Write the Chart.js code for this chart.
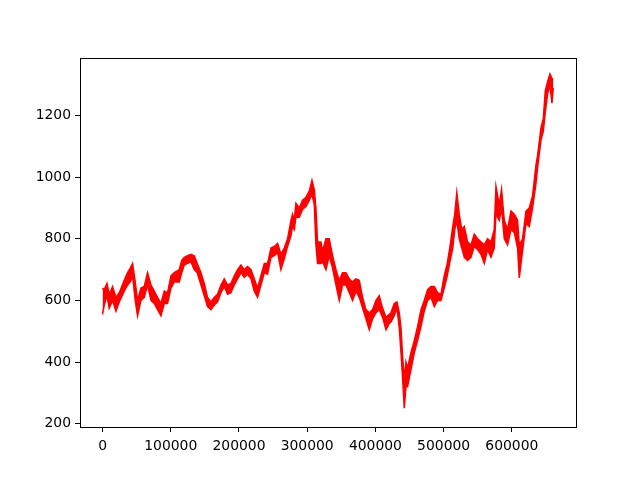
<!DOCTYPE html>
<html>
<head>
<meta charset="utf-8">
<script src="https://cdn.jsdelivr.net/npm/chart.js@4/dist/chart.umd.min.js"></script>
<style>
  html, body { margin: 0; padding: 0; background: #fff; }
  #wrap { width: 640px; height: 480px; }
</style>
</head>
<body>
<div id="wrap"><canvas id="chart" width="640" height="480"></canvas></div>
<script>
// sample positions (index on the x axis)
const sampleX = [
  0, 2500, 6500, 9800, 14700, 19600, 24500, 31800, 36700, 40600,
  44000, 47900, 51300, 56300, 61100, 66000, 71000, 75800, 80600, 85600,
  90500, 95300, 100300, 105100, 112400, 116100, 119800, 124600, 129600, 134400,
  138800, 144300, 149100, 153900, 158900, 163800, 168600, 173600, 178400, 183300,
  188200, 193100, 197900, 202900, 207700, 212600, 217600, 222400, 227200, 232200,
  237100, 241900, 246900, 251700, 256600, 261500, 266400, 271200, 276200, 278500,
  281000, 283500, 288400, 293200, 298200, 303000, 307000, 310400, 312800, 315200,
  320200, 322500, 327500, 332300, 337200, 342200, 347000, 351800, 356800, 361700,
  366500, 371500, 376300, 381200, 386100, 391000, 395800, 400800, 405600, 410500,
  415500, 420300, 422800, 427600, 431600, 435000, 437500, 439800, 442300, 444800,
  447100, 452100, 457000, 461800, 466800, 471600, 476500, 481400, 486300, 491100,
  496100, 500900, 505300, 509700, 513400, 516300, 519300, 522900, 526600, 530300,
  535100, 540100, 544900, 549800, 554700, 559600, 564400, 569400, 574200, 576700,
  581600, 584900, 588900, 593700, 598700, 603600, 608400, 610900, 615700, 620700,
  625500, 630400, 635400, 637700, 642700, 646100, 649000, 652400, 655900, 658800,
  660700
];

// upper edge of the noisy red band
const bandHigh = [
  640, 635, 655, 620, 645, 610, 625, 665, 690, 705,
  720, 660, 600, 640, 645, 690, 650, 630, 610, 590,
  630, 625, 680, 690, 700, 730, 740, 745, 750, 745,
  720, 690, 655, 610, 595, 610, 620, 650, 670, 650,
  655, 680, 700, 715, 700, 710, 700, 670, 640, 680,
  720, 720, 770, 775, 785, 750, 770, 800, 860, 880,
  860, 915, 900, 925, 935, 955, 990, 960, 900, 790,
  790, 760, 800, 800, 745, 700, 665, 690, 690, 670,
  660, 670, 665, 610, 570, 560, 570, 600, 615, 575,
  545, 555, 560, 590, 595, 560, 510, 420, 345, 400,
  380, 430, 470, 515, 570, 600, 635, 645, 645, 625,
  620, 680, 720, 780, 840, 880, 950, 880, 830, 840,
  790, 780, 815, 800, 790, 780, 800, 790, 830, 970,
  910, 960, 860, 830, 890, 880, 860, 780, 800, 890,
  900, 940, 1040, 1070, 1160, 1190, 1280, 1310, 1335, 1320,
  1320
];

// lower edge of the noisy red band
const bandLow = [
  555, 585, 615, 575, 600, 565, 595, 630, 650, 660,
  680, 600, 550, 600, 610, 650, 600, 590, 570, 550,
  590, 590, 640, 660, 660, 690, 715, 720, 725, 700,
  690, 650, 615, 580, 570, 585, 595, 625, 645, 620,
  625, 650, 670, 690, 675, 685, 670, 630, 610, 650,
  690, 685, 740, 745, 755, 700, 735, 775, 810, 840,
  830, 870, 870, 895, 905, 925, 945, 910, 780, 720,
  720, 725, 700, 745, 705, 650, 600, 650, 650, 625,
  600, 630, 610, 575, 540, 505, 540, 560, 570, 545,
  505, 525, 530, 550, 575, 510, 430, 350, 250, 320,
  320, 375, 430, 470, 515, 565, 600, 610, 580, 600,
  600, 640, 680, 730, 770, 830, 860, 800, 770, 740,
  730, 740, 775, 765, 750, 720, 765, 740, 770, 880,
  860, 900, 800, 780, 830, 820, 770, 673, 760, 850,
  840, 900, 980, 1030, 1120, 1150, 1210, 1270, 1300, 1240,
  1290
];

const xTicks = [0, 100000, 200000, 300000, 400000, 500000, 600000];
const yTicks = [200, 400, 600, 800, 1000, 1200];

const red = '#ff0000';
const tickFont = { family: 'DejaVu Sans', size: 13.9 };

const highPts = sampleX.map((x, i) => ({ x: x, y: bandHigh[i] }));
const lowPts = sampleX.map((x, i) => ({ x: x, y: bandLow[i] }));

// full black frame round the plot, like the four spines
const framePlugin = {
  id: 'frame',
  afterDraw(chart) {
    const a = chart.chartArea;
    const ctx = chart.ctx;
    ctx.save();
    ctx.strokeStyle = '#000';
    ctx.lineWidth = 1;
    ctx.strokeRect(Math.round(a.left) + 0.5, Math.round(a.top) + 0.5,
      Math.round(a.right - a.left), Math.round(a.bottom - a.top));
    ctx.restore();
  }
};

new Chart(document.getElementById('chart'), {
  type: 'line',
  data: {
    datasets: [
      {
        data: highPts,
        borderColor: red,
        borderWidth: 1.5,
        pointRadius: 0,
        fill: false,
        tension: 0
      },
      {
        data: lowPts,
        borderColor: red,
        borderWidth: 1.5,
        backgroundColor: red,
        pointRadius: 0,
        fill: '-1',
        tension: 0
      }
    ]
  },
  options: {
    responsive: false,
    animation: false,
    layout: { padding: { top: 58, right: 64, left: 0, bottom: 0 } },
    plugins: {
      legend: { display: false },
      tooltip: { enabled: false }
    },
    scales: {
      x: {
        type: 'linear',
        min: -33050,
        max: 694050,
        afterFit(scale) { scale.height = 53; },
        afterBuildTicks(scale) { scale.ticks = xTicks.map(v => ({ value: v })); },
        ticks: {
          color: '#000',
          font: tickFont,
          padding: 6,
          maxRotation: 0,
          autoSkip: false,
          callback: v => String(v)
        },
        grid: {
          display: true,
          drawOnChartArea: false,
          drawTicks: true,
          tickLength: 5,
          color: '#000'
        },
        border: { display: false }
      },
      y: {
        type: 'linear',
        min: 189,
        max: 1387,
        afterFit(scale) { scale.width = 80; },
        afterBuildTicks(scale) { scale.ticks = yTicks.map(v => ({ value: v })); },
        ticks: {
          color: '#000',
          font: tickFont,
          padding: 4,
          autoSkip: false,
          callback: v => String(v)
        },
        grid: {
          display: true,
          drawOnChartArea: false,
          drawTicks: true,
          tickLength: 5,
          color: '#000'
        },
        border: { display: false }
      }
    }
  },
  plugins: [framePlugin]
});
</script>
</body>
</html>
